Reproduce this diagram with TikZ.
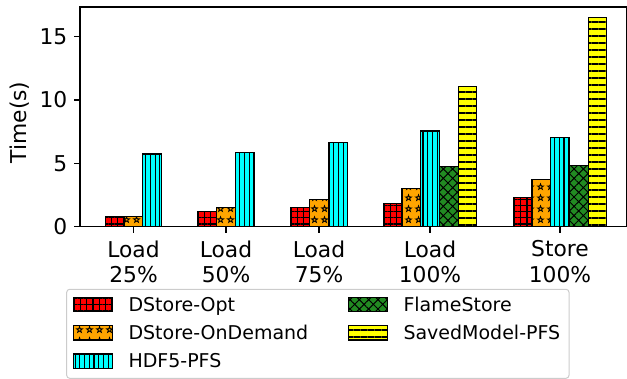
\documentclass[tikz,border=0pt]{standalone}
\usepackage{fontspec}
\setmainfont{DejaVu Sans}
\usetikzlibrary{patterns.meta}
\definecolor{mred}{HTML}{FF0000}
\definecolor{morange}{HTML}{FFA500}
\definecolor{mcyan}{HTML}{00FFFF}
\definecolor{mgreen}{HTML}{228B22}
\definecolor{myellow}{HTML}{FFFF00}
\definecolor{legframe}{HTML}{CCCCCC}
\pgfdeclarepattern{
  name=OutStars,
  type=uncolored,
  bottom left={\pgfpoint{0pt}{0pt}},
  top right={\pgfpoint{9.4pt}{11pt}},
  tile size={\pgfpoint{9.4pt}{11pt}},
  code={
    \pgfsetlinewidth{0.9pt}
    \pgfpathmoveto{\pgfpoint{4.7pt}{8.7pt}}
    \pgfpathlineto{\pgfpoint{5.464pt}{6.552pt}}
    \pgfpathlineto{\pgfpoint{7.743pt}{6.489pt}}
    \pgfpathlineto{\pgfpoint{5.936pt}{5.098pt}}
    \pgfpathlineto{\pgfpoint{6.581pt}{2.911pt}}
    \pgfpathlineto{\pgfpoint{4.7pt}{4.2pt}}
    \pgfpathlineto{\pgfpoint{2.819pt}{2.911pt}}
    \pgfpathlineto{\pgfpoint{3.464pt}{5.098pt}}
    \pgfpathlineto{\pgfpoint{1.657pt}{6.489pt}}
    \pgfpathlineto{\pgfpoint{3.936pt}{6.552pt}}
    \pgfpathclose
    \pgfusepath{stroke}
  }
}
\newcommand\mybar[3]{\draw[#1] (#2,152.3) rectangle ++(18.7,{12.67*#3});}
\begin{document}
\begin{tikzpicture}[x=1pt,y=1pt,
  edge/.style={draw=black,line width=1.1pt,pattern color=black},
  barR/.style={edge,preaction={fill=mred},pattern={Hatch[angle=0,distance=6.2pt,line width=1.1pt]}},
  barO/.style={edge,preaction={fill=morange},pattern=OutStars},
  barC/.style={edge,preaction={fill=mcyan},pattern={Lines[angle=90,distance=4.7pt,line width=1.1pt]}},
  barG/.style={edge,preaction={fill=mgreen},pattern={Hatch[angle=45,distance=6.6pt,line width=1pt]}},
  barY/.style={edge,preaction={fill=myellow},pattern={Lines[angle=0,distance=7pt,line width=1.5pt]}},
  ticklab/.style={font=\fontsize{21.8}{25.6}\selectfont,inner sep=0pt},
  leglab/.style={font=\fontsize{19}{22}\selectfont,inner sep=0pt,anchor=base west},
  spine/.style={line width=1.1pt,black}]
\useasboundingbox (0,0) rectangle (627,379);
% bars
\mybar{barR}{105.45}{0.79}
\mybar{barO}{124.15}{0.84}
\mybar{barC}{142.85}{5.74}
\mybar{barR}{197.95}{1.18}
\mybar{barO}{216.65}{1.55}
\mybar{barC}{235.35}{5.84}
\mybar{barR}{290.95}{1.50}
\mybar{barO}{309.65}{2.16}
\mybar{barC}{328.35}{6.66}
\mybar{barR}{383.25}{1.84}
\mybar{barO}{401.95}{3.03}
\mybar{barC}{420.65}{7.55}
\mybar{barG}{439.35}{4.74}
\mybar{barY}{458.05}{11.10}
\mybar{barR}{513.25}{2.32}
\mybar{barO}{531.95}{3.74}
\mybar{barC}{550.65}{7.05}
\mybar{barG}{569.35}{4.82}
\mybar{barY}{588.05}{16.53}
% frame
\draw[spine] (80,152.3) rectangle (626.3,372);
% y ticks
\foreach \v in {0,5,10,15}{
  \coordinate (yt\v) at (80,{152.3+12.67*\v});
  \draw[spine] (yt\v) -- ++(-6,0);
  \node[ticklab,anchor=east] (yl\v) at ([xshift=-12.5pt]yt\v) {\v};
}
\node[ticklab,rotate=90] (ylabel) at (19.7,256.5) {Time(s)};
% x ticks
\foreach \n/\x/\a/\b in {a/133.5/Load/25\%,b/226/Load/50\%,c/319/Load/75\%,d/430/Load/100\%,e/560/Store/100\%}{
  \coordinate (xt\n) at (\x,152.3);
  \draw[spine] (xt\n) -- ++(0,-6);
  \node[ticklab,anchor=north,align=center] (xl\n) at (\x,138.6) {\a\\\b};
}
% legend
\draw[legframe,line width=1pt,rounded corners=3pt,fill=white] (66.7,0.7) rectangle (569,89.7);
\draw[barR] (73.3,67.3) rectangle (112.7,81.7);
\node[leglab] (l1) at (128.3,67.6) {DStore-Opt};
\draw[barO] (73.3,39) rectangle (112.7,53.3);
\node[leglab] (l2) at (128.3,39.3) {DStore-OnDemand};
\draw[barC] (73.3,10.7) rectangle (112.7,25);
\node[leglab] (l3) at (128.3,11) {HDF5-PFS};
\draw[barG] (348.3,67.3) rectangle (387.7,81.7);
\node[leglab] (l4) at (403.3,67.6) {FlameStore};
\draw[barY] (348.3,39) rectangle (387.7,53.3);
\node[leglab] (l5) at (403.3,39.3) {SavedModel-PFS};
\end{tikzpicture}
\end{document}
